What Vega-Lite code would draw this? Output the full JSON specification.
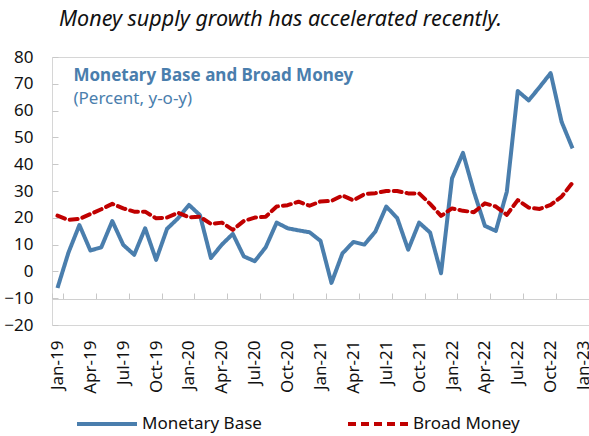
{
  "$schema": "https://vega.github.io/schema/vega-lite/v6.json",
  "autosize": {"type": "none"},
  "padding": {"left": 52, "top": 57, "right": 0, "bottom": 111},
  "width": 537,
  "height": 268,
  "title": {
    "text": "Money supply growth has accelerated recently.",
    "anchor": "start",
    "frame": "group",
    "dx": 7,
    "offset": 18,
    "font": "Noto Sans",
    "fontStyle": "italic",
    "fontWeight": "normal",
    "fontSize": 21.5,
    "color": "#111111"
  },
  "config": {
    "view": {"stroke": "#d6d6d6", "strokeWidth": 1},
    "font": "Noto Sans",
    "axis": {"grid": false, "labelFont": "Noto Sans", "labelColor": "#111111", "labelFontSize": 17}
  },
  "data": {
    "values": [
      {"month": "Jan-19", "Monetary Base": -6.2, "Broad Money": 20.8},
      {"month": "Feb-19", "Monetary Base": 7.0, "Broad Money": 19.2},
      {"month": "Mar-19", "Monetary Base": 17.3, "Broad Money": 19.6},
      {"month": "Apr-19", "Monetary Base": 7.8, "Broad Money": 21.4},
      {"month": "May-19", "Monetary Base": 9.0, "Broad Money": 23.2},
      {"month": "Jun-19", "Monetary Base": 18.8, "Broad Money": 25.2},
      {"month": "Jul-19", "Monetary Base": 9.9, "Broad Money": 23.5},
      {"month": "Aug-19", "Monetary Base": 6.2, "Broad Money": 22.3},
      {"month": "Sep-19", "Monetary Base": 16.1, "Broad Money": 22.3},
      {"month": "Oct-19", "Monetary Base": 4.3, "Broad Money": 19.8},
      {"month": "Nov-19", "Monetary Base": 15.9, "Broad Money": 20.1},
      {"month": "Dec-19", "Monetary Base": 19.8, "Broad Money": 21.9},
      {"month": "Jan-20", "Monetary Base": 24.8, "Broad Money": 20.2},
      {"month": "Feb-20", "Monetary Base": 21.0, "Broad Money": 20.4},
      {"month": "Mar-20", "Monetary Base": 5.0, "Broad Money": 17.7},
      {"month": "Apr-20", "Monetary Base": 10.0, "Broad Money": 18.2},
      {"month": "May-20", "Monetary Base": 14.0, "Broad Money": 15.5},
      {"month": "Jun-20", "Monetary Base": 5.6, "Broad Money": 18.8},
      {"month": "Jul-20", "Monetary Base": 3.8, "Broad Money": 20.1},
      {"month": "Aug-20", "Monetary Base": 9.0, "Broad Money": 20.4},
      {"month": "Sep-20", "Monetary Base": 18.2, "Broad Money": 24.2},
      {"month": "Oct-20", "Monetary Base": 16.1, "Broad Money": 24.7},
      {"month": "Nov-20", "Monetary Base": 15.3, "Broad Money": 26.0},
      {"month": "Dec-20", "Monetary Base": 14.6, "Broad Money": 24.5},
      {"month": "Jan-21", "Monetary Base": 11.4, "Broad Money": 26.1},
      {"month": "Feb-21", "Monetary Base": -4.3, "Broad Money": 26.3},
      {"month": "Mar-21", "Monetary Base": 6.7, "Broad Money": 28.3},
      {"month": "Apr-21", "Monetary Base": 11.0, "Broad Money": 26.5},
      {"month": "May-21", "Monetary Base": 10.0, "Broad Money": 28.8},
      {"month": "Jun-21", "Monetary Base": 14.8, "Broad Money": 29.2},
      {"month": "Jul-21", "Monetary Base": 24.2, "Broad Money": 30.0},
      {"month": "Aug-21", "Monetary Base": 19.9, "Broad Money": 30.0},
      {"month": "Sep-21", "Monetary Base": 8.1, "Broad Money": 29.1},
      {"month": "Oct-21", "Monetary Base": 18.2, "Broad Money": 29.1},
      {"month": "Nov-21", "Monetary Base": 14.5, "Broad Money": 25.2},
      {"month": "Dec-21", "Monetary Base": -0.7, "Broad Money": 20.7},
      {"month": "Jan-22", "Monetary Base": 34.7, "Broad Money": 23.5},
      {"month": "Feb-22", "Monetary Base": 44.2, "Broad Money": 22.6},
      {"month": "Mar-22", "Monetary Base": 29.7, "Broad Money": 22.1},
      {"month": "Apr-22", "Monetary Base": 17.0, "Broad Money": 25.4},
      {"month": "May-22", "Monetary Base": 15.1, "Broad Money": 24.2},
      {"month": "Jun-22", "Monetary Base": 29.7, "Broad Money": 21.1},
      {"month": "Jul-22", "Monetary Base": 67.3, "Broad Money": 26.6},
      {"month": "Aug-22", "Monetary Base": 63.8, "Broad Money": 23.8},
      {"month": "Sep-22", "Monetary Base": 68.8, "Broad Money": 23.3},
      {"month": "Oct-22", "Monetary Base": 74.0, "Broad Money": 24.8},
      {"month": "Nov-22", "Monetary Base": 55.8, "Broad Money": 27.9},
      {"month": "Dec-22", "Monetary Base": 45.9, "Broad Money": 33.1}
    ]
  },
  "transform": [{"fold": ["Monetary Base", "Broad Money"], "as": ["series", "value"]}],
  "encoding": {
    "x": {
      "field": "month",
      "type": "ordinal",
      "scale": {
        "type": "band",
        "paddingInner": 0,
        "paddingOuter": 0,
        "domain": ["Jan-19","Feb-19","Mar-19","Apr-19","May-19","Jun-19","Jul-19","Aug-19","Sep-19","Oct-19","Nov-19","Dec-19",
                   "Jan-20","Feb-20","Mar-20","Apr-20","May-20","Jun-20","Jul-20","Aug-20","Sep-20","Oct-20","Nov-20","Dec-20",
                   "Jan-21","Feb-21","Mar-21","Apr-21","May-21","Jun-21","Jul-21","Aug-21","Sep-21","Oct-21","Nov-21","Dec-21",
                   "Jan-22","Feb-22","Mar-22","Apr-22","May-22","Jun-22","Jul-22","Aug-22","Sep-22","Oct-22","Nov-22","Dec-22","Jan-23"]
      },
      "axis": {
        "title": null,
        "orient": "bottom",
        "offset": -26,
        "values": ["Jan-19","Apr-19","Jul-19","Oct-19","Jan-20","Apr-20","Jul-20","Oct-20","Jan-21","Apr-21","Jul-21","Oct-21","Jan-22","Apr-22","Jul-22","Oct-22","Jan-23"],
        "domain": true,
        "domainColor": "#d0d0d0",
        "domainWidth": 1,
        "ticks": true,
        "tickBand": "extent",
        "tickSize": -6,
        "tickColor": "#c8c8c8",
        "labelAngle": -90,
        "labelPadding": 47,
        "labelAlign": "right",
        "labelBaseline": "middle"
      }
    },
    "y": {
      "field": "value",
      "type": "quantitative",
      "scale": {"domain": [-20, 80], "nice": false, "zero": false},
      "axis": {
        "title": null,
        "values": [-20, -10, 0, 10, 20, 30, 40, 50, 60, 70, 80],
        "domain": false,
        "tickSize": -6,
        "tickColor": "#c8c8c8",
        "labelPadding": 25
      }
    },
    "color": {
      "field": "series",
      "type": "nominal",
      "scale": {"domain": ["Monetary Base", "Broad Money"], "range": ["#4a7ead", "#c00000"]},
      "legend": {
        "title": null,
        "orient": "none",
        "legendX": 23,
        "legendY": 335,
        "direction": "horizontal",
        "columnPadding": 78,
        "symbolType": "stroke",
        "symbolSize": 3600,
        "symbolStrokeWidth": 4,
        "labelFontSize": 17,
        "labelFont": "Noto Sans",
        "labelColor": "#111111",
        "labelOffset": 3
      }
    },
    "strokeDash": {
      "field": "series",
      "type": "nominal",
      "scale": {"domain": ["Monetary Base", "Broad Money"], "range": [[1, 0], [8, 5]]},
      "legend": {
        "title": null,
        "orient": "none",
        "legendX": 23,
        "legendY": 335,
        "direction": "horizontal",
        "columnPadding": 78,
        "symbolType": "stroke",
        "symbolSize": 3600,
        "symbolStrokeWidth": 4,
        "labelFontSize": 17,
        "labelFont": "Noto Sans",
        "labelColor": "#111111",
        "labelOffset": 3
      }
    }
  },
  "layer": [
    {
      "transform": [{"filter": "datum.series === 'Monetary Base'"}],
      "mark": {"type": "line", "strokeWidth": 4, "strokeJoin": "round"}
    },
    {
      "transform": [{"filter": "datum.series === 'Broad Money'"}],
      "mark": {"type": "line", "strokeWidth": 4, "strokeJoin": "round", "strokeCap": "round"}
    },
    {
      "transform": [{"filter": "datum.month === 'Jan-19' && datum.series === 'Monetary Base'"}],
      "mark": {"type": "text", "text": "Monetary Base and Broad Money", "align": "left", "baseline": "alphabetic", "font": "Noto Sans", "fontWeight": "bold", "fontSize": 17, "color": "#4a7ead", "dx": 5},
      "encoding": {
        "x": {"datum": "Feb-19", "type": "ordinal"},
        "y": {"datum": 71, "type": "quantitative"},
        "color": null,
        "strokeDash": null
      }
    },
    {
      "transform": [{"filter": "datum.month === 'Jan-19' && datum.series === 'Monetary Base'"}],
      "mark": {"type": "text", "text": "(Percent, y-o-y)", "align": "left", "baseline": "alphabetic", "font": "Noto Sans", "fontWeight": "normal", "fontSize": 17, "color": "#4a7ead", "dx": 5},
      "encoding": {
        "x": {"datum": "Feb-19", "type": "ordinal"},
        "y": {"datum": 62.3, "type": "quantitative"},
        "color": null,
        "strokeDash": null
      }
    }
  ]
}
